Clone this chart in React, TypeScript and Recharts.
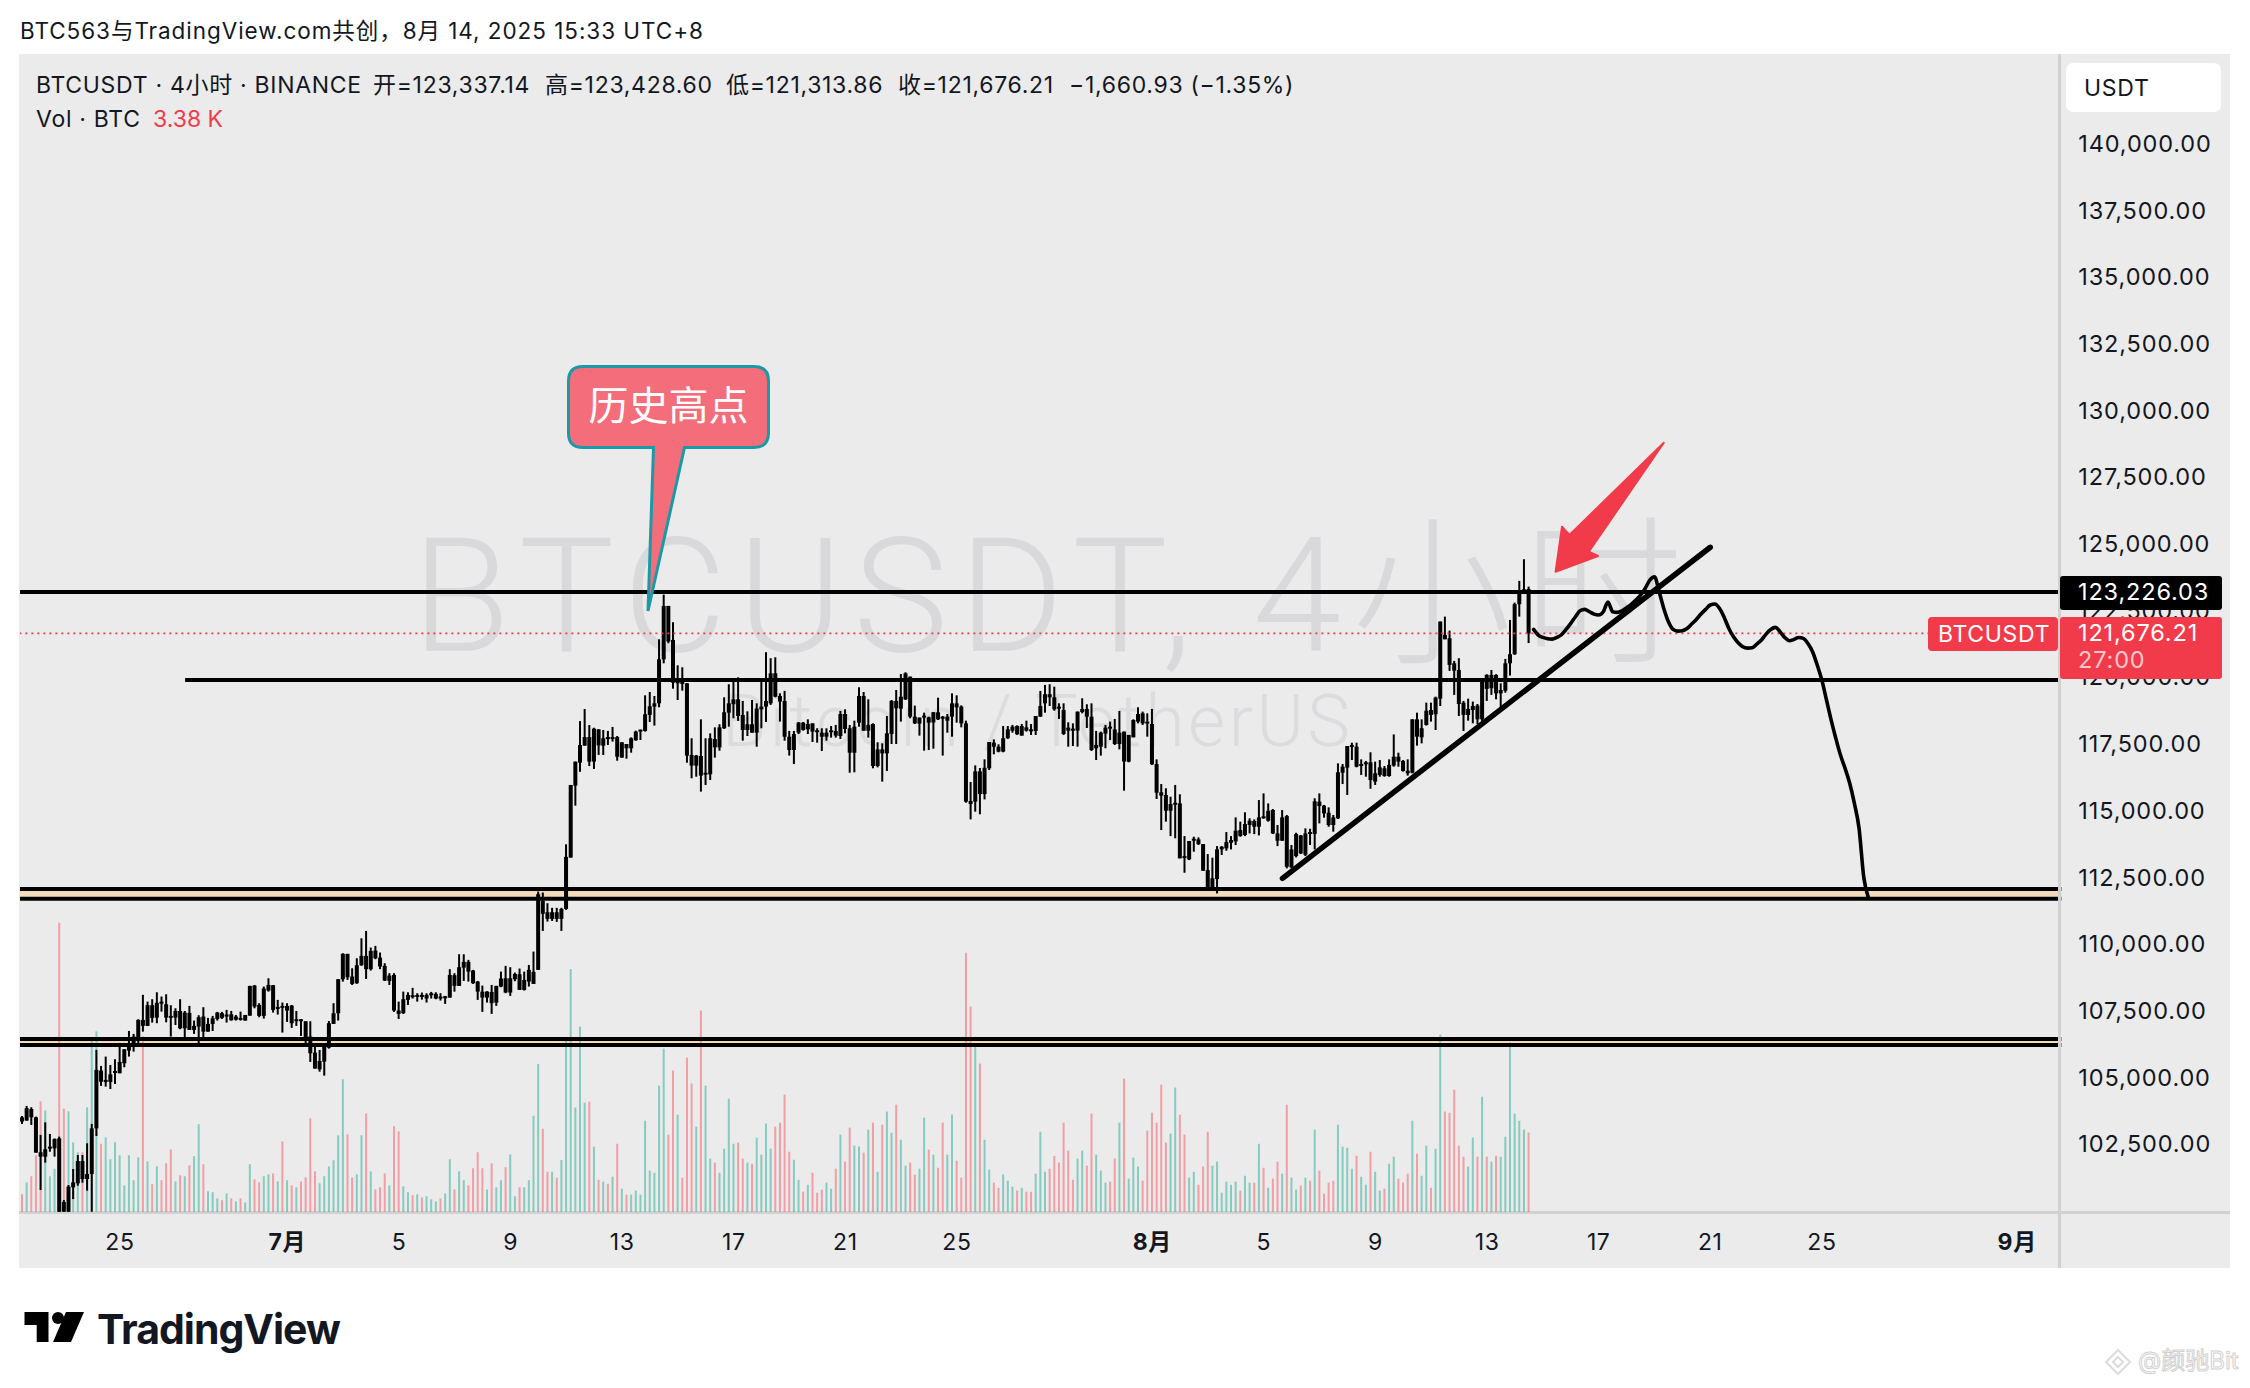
import { Bar, Cell, ComposedChart, Line, ReferenceArea, ReferenceLine, XAxis, YAxis } from "recharts";

const symbolLabel = "BTCUSDT · 4小时 · BINANCE";
const lastClose = 121676.21;
const slotCount = 439;

const priceTicks = [102500, 105000, 107500, 110000, 112500, 115000, 117500, 120000, 122500, 125000, 127500, 130000, 132500, 135000, 137500, 140000];
const timeTickSlots = [21, 57, 81, 105, 129, 153, 177, 201, 243, 267, 291, 315, 339, 363, 387, 429];
const timeTickLabels = ["25", "7月", "5", "9", "13", "17", "21", "25", "8月", "5", "9", "13", "17", "21", "25", "9月"];

const highs = [
  103590,103965,103915,103565,102880,103350,102915,102750,102815,100440,
  101000,101600,102125,102125,102565,103290,106065,105465,105815,105500,
  105715,106190,106090,106775,106665,107215,108130,107875,107965,108225,
  108065,108150,107740,107625,107965,107525,107715,107165,107365,107665,
  107265,107340,107490,107490,107565,107525,107375,107500,107375,108465,
  108500,107815,108440,108750,108500,107940,107840,107815,107750,107525,
  107215,107140,107140,106250,106065,106315,107150,107815,108715,109690,
  109665,109125,109500,110250,110525,109900,109965,109715,109315,108940,
  108940,107875,108250,108225,108390,108190,108215,108190,108240,108225,
  108190,108090,109090,108940,109650,109650,109440,109065,108650,108475,
  108265,108500,108465,109000,109215,109165,108965,109115,109000,109250,
  109750,112000,111965,111565,111390,111390,111390,113770,115995,116870,
  118390,118840,118240,118140,118080,118055,118020,118170,117830,117595,
  117530,117780,118030,118070,119355,119480,119330,121455,123130,122705,
  122095,120480,120405,119805,117745,117120,118455,117745,117930,118155,
  118270,119280,119770,119995,120030,119145,118755,119180,119055,119870,
  120970,120745,120780,119430,119520,118020,118020,118355,118355,118455,
  118305,118120,118120,118120,118205,118245,118770,118830,118245,118405,
  119655,119480,119205,118305,117595,117555,118580,119180,119555,120155,
  120220,120055,118970,118520,118705,118555,118730,119265,118580,118655,
  119430,119355,118980,118405,116105,116730,116630,116955,117605,117705,
  117520,118205,118205,118245,118230,118280,118405,118280,118580,119520,
  119745,119770,119680,119055,119055,118345,118305,118745,119245,119020,
  119055,118020,117995,118245,118370,118470,118770,117995,117870,118455,
  118905,118745,118680,118845,116955,116030,115870,115555,115995,115645,
  114080,113895,114055,114030,113780,113405,113270,113705,113705,114230,
  114080,114780,114620,114970,114745,114705,115430,115680,115305,115095,
  114495,115055,114870,113745,114205,114120,114370,114355,115495,115680,
  115245,115155,114870,116805,116780,117455,117580,117580,116955,116895,
  117220,116870,116930,116705,116955,117890,117205,116930,116955,118455,
  118705,118455,119080,119080,119305,122120,122305,121780,120645,120745,
  119145,119230,119120,119030,119955,120145,120305,120145,119805,120720,
  122180,122830,123645,124455,123428.6,
];

const bodyTops = [
  103540,103880,103850,103540,102230,102340,102440,102725,102750,100365,
  100940,101100,101900,101900,101415,103125,105315,105290,104940,105150,
  105275,105615,106090,106315,106565,107190,107190,107740,107740,107830,
  107875,107775,107340,107525,107525,107465,107450,106965,107290,107315,
  107040,107250,107465,107440,107390,107400,107315,107265,107375,108465,
  108475,107750,108365,108500,108490,107675,107715,107715,107725,107215,
  107215,107140,106565,105965,105650,106315,107065,107440,108715,109665,
  109665,108815,109240,109590,109590,109775,109790,109525,109215,108850,
  108875,107540,107965,108125,108115,108125,108125,108125,108190,108165,
  108065,108075,108875,108865,109165,109365,109365,109040,108625,108250,
  108250,108240,108465,108740,108750,108750,108915,108900,108690,109065,
  108990,111900,111650,111225,111225,111225,111350,113300,115995,116870,
  117490,117790,117790,118105,118080,117745,117790,117790,117790,117595,
  117530,117745,117995,118070,118645,118945,119055,120705,122705,122705,
  121430,119930,119855,119805,117120,117095,117080,116455,117745,117715,
  118155,118720,119055,119205,119205,118620,118270,118270,118855,118930,
  119145,120180,120180,119330,119145,117805,117905,118330,118330,118280,
  118305,118045,117955,117955,118045,118020,118655,118655,118120,118180,
  119330,119330,118245,118280,117330,117330,117930,119145,119145,119305,
  120180,120055,118555,118520,118595,118530,118720,118720,118555,118555,
  119055,119055,118930,118305,115395,116505,116505,116640,117605,117580,
  117430,117745,118080,118180,118205,118205,118155,118080,118580,118955,
  119395,119395,119280,118930,118805,118145,118105,118745,118845,118845,
  118555,117495,117955,118145,118180,118080,117955,117995,117870,118430,
  118655,118680,118370,118280,116780,115720,115620,115280,115330,115305,
  113330,113895,113980,113955,113780,112805,112495,113580,113680,113855,
  113930,114280,114305,114530,114655,114645,114780,114820,115030,115055,
  114180,114780,114830,113580,114155,114105,114180,114230,115380,115370,
  115220,114955,114780,116470,116680,117455,117495,117430,116780,116845,
  116845,116430,116655,116620,116745,117055,117055,116895,116530,118455,
  118455,118120,118780,118805,119270,122120,121620,121495,120555,120305,
  119080,118845,118955,118970,119930,120120,120120,120120,119555,120555,
  120895,122770,123280,123330,123337.14,
];

const bodyBottoms = [
  103380,103415,103540,102215,102065,102065,102365,102375,100000,100000,
  100000,100915,101065,101225,101225,101415,103125,104875,104865,104865,
  105215,105190,105565,106040,106315,106540,106965,106965,107265,107275,
  107815,107275,107290,107275,106875,106875,106815,106815,106940,106750,
  106750,107040,107225,107265,107325,107175,107200,107190,107165,107350,
  107690,107340,107340,108290,107565,107615,107690,107540,107065,107165,
  107175,106500,105940,105365,105340,105625,106150,107040,107440,108715,
  108790,108540,108565,109240,109090,109090,109500,109190,108665,108650,
  107540,107415,107440,107940,108040,108065,108065,107990,108115,107990,
  108040,108040,108025,108465,108465,109150,109000,108565,108250,108025,
  108025,107815,107840,108440,108215,108215,108715,108315,108315,108625,
  108540,109065,111165,110975,110975,110975,110975,111350,113275,115970,
  116830,117470,116870,116870,117480,117470,117730,117745,117055,117020,
  117370,117370,117670,118020,118020,118620,118930,119055,120705,121370,
  119830,119805,119780,117095,116720,116720,116345,116395,116395,117405,
  117405,118120,118705,119020,118580,118055,118055,117955,117955,118830,
  118930,119055,119305,119120,117805,117305,117305,117955,118055,118080,
  117995,117980,117805,117805,117995,117845,117830,118095,117205,117205,
  118330,118030,118030,116705,116705,117180,117180,117905,118870,118855,
  119205,118555,118305,118295,118530,118330,118340,118455,118505,118405,
  118555,118905,118305,115370,115280,115370,115655,115655,116620,117430,
  117245,117245,117745,118030,117895,117845,118030,118030,118020,118555,
  119055,119280,118830,118895,117905,118030,118030,118030,118730,118555,
  117305,117370,117430,117920,118120,117530,117530,116870,116870,117780,
  118370,118305,118330,116770,115705,115595,115030,115030,115270,113245,
  113270,113205,113905,113780,112780,112120,112120,112470,113580,113620,
  113830,113880,114080,114120,114495,114430,114430,114745,114655,114180,
  113905,113905,112930,112905,113330,113430,113380,114180,114155,115205,
  114930,114495,114495,114745,116455,116645,117430,116680,116705,116780,
  116180,116120,116370,116330,116330,116720,116870,116520,116430,116455,
  117805,117780,118245,118620,118645,119230,121455,120495,120280,119030,
  118620,118620,118805,118455,118455,119595,119620,119430,119430,119530,
  120555,120895,122770,123280,121676.21,
];

const lows = [
  103290,103415,103250,102215,100815,101840,102250,102065,100000,100000,
  100000,100475,100975,101090,100790,100000,102840,104715,104690,104600,
  104790,105190,105415,105815,106000,106290,106750,106965,107090,107065,
  107500,107100,106565,107000,106840,106525,106815,106665,106315,106540,
  106750,106775,107165,107225,107090,107165,107165,107165,107165,107350,
  107625,107290,107240,108250,107465,107390,106715,107115,106890,106965,
  106590,106315,105615,105365,105250,105100,106115,107040,107165,108625,
  108690,108500,108540,109215,108725,109040,109465,109090,108650,108500,
  107490,107225,107415,107750,107990,107875,107950,107840,107990,107965,
  107915,107790,108025,108250,108465,108650,108625,108540,107940,107490,
  107840,107415,107715,108415,108190,108090,108640,108315,108290,108440,
  108540,109065,110525,110875,110900,110865,110525,111315,113275,115220,
  116490,117470,116705,116595,117120,117120,117495,117620,116905,117020,
  116980,117205,117655,117680,117995,118355,118220,118905,120555,121305,
  119605,119180,119530,116830,116245,116305,115745,115995,116180,117020,
  117280,118095,118180,118495,118395,117655,117830,117955,117430,118120,
  118355,118995,119280,118370,117655,117095,116780,117905,118030,117905,
  117605,117580,117270,117655,117770,117770,117720,117930,116455,116470,
  118180,118030,117770,116620,116655,116120,116520,117530,117530,118370,
  119180,118495,118280,117845,117280,117305,117355,118430,117095,117955,
  117805,118330,118155,115330,114705,114995,114895,115455,116555,117145,
  117220,117220,117720,117955,117870,117845,117995,117870,117870,118555,
  118705,118955,118780,118470,117870,117430,117455,117430,118680,118130,
  117270,116930,117095,117370,117680,117495,117330,115780,116845,117780,
  118305,118245,117805,116745,115470,114305,114620,114080,113995,113245,
  112705,113180,113495,113745,112780,112020,112030,111930,113370,113530,
  113580,113745,114055,114080,114180,114155,114105,114730,114620,114155,
  113705,113905,112870,112870,113280,113405,113330,113745,113580,114555,
  114770,114430,114245,114720,116030,115620,116930,116655,116370,116305,
  115855,115995,116305,116305,116305,116680,116680,116495,116345,116430,
  117470,117555,118220,118370,118055,118955,121455,120270,119370,118580,
  118020,118405,118305,118280,118395,119145,119370,119205,118895,119455,
  120095,120870,122305,123180,121313.86,
];

const volumes = [
  750,1260,1520,2410,4700,4320,1520,1840,12290,4390,
  4280,2960,2540,2540,4450,7440,7680,2900,3170,2240,
  2960,2410,1130,2410,1350,2320,7470,2150,1180,1940,
  1350,2070,2660,1300,1560,1520,1980,2370,3730,2030,
  880,840,580,500,790,580,450,580,410,2030,
  1390,1260,1520,1600,1640,1300,3000,1350,1130,1050,
  1300,1470,3980,1730,1220,1520,1940,2200,3260,5640,
  3300,1470,1600,3260,4190,1730,960,1050,1640,1130,
  3640,3430,1090,840,710,750,620,670,540,450,
  580,790,2240,960,1730,1350,1130,1860,2540,1860,
  960,2070,1050,1350,1900,2450,670,1050,1050,1350,
  4090,6290,3540,1710,1710,1460,2210,7410,10330,4440,
  7880,4650,4690,2780,1370,1290,1200,1500,2900,990,
  740,740,910,740,3880,1760,1670,5370,6940,3290,
  6010,4140,1460,6560,5460,3630,8560,5370,2270,2100,
  1670,2690,4820,2900,2950,2270,2100,2050,3160,2440,
  3760,2690,3630,3800,4990,2560,2220,1370,860,1160,
  1670,820,950,1250,990,1840,3290,2140,3590,2820,
  2780,2520,3500,3800,1710,3710,4270,3370,4560,3070,
  1970,2100,1590,1840,4010,2650,2440,1880,3800,2440,
  4140,2180,1460,11020,8730,7160,6310,3070,1800,1250,
  1030,1590,1330,1080,910,1030,860,860,1630,3410,
  1710,1840,2390,2100,3800,2610,1370,2270,2610,1970,
  4180,2440,1760,1250,1290,2270,3800,5670,1420,2310,
  1930,1330,3460,4220,3800,5410,2950,3330,5290,4140,
  3290,1460,1710,1160,1930,3410,1970,2140,820,1290,
  1160,1290,910,1540,1250,1250,2900,1880,1030,1420,
  2140,1630,4560,1460,950,1120,1460,1330,3500,1760,
  780,1250,1330,3710,2780,2730,1840,2390,1500,1160,
  2560,1710,910,990,2050,2350,1420,1250,1630,3880,
  2480,1540,2820,1030,2690,7540,4270,4220,5200,2820,
  2350,1930,3160,2350,4900,2350,2140,2390,2350,3200,
  7200,4180,3880,3500,3380,
];

const volumeSides =
  "rgrrrgggrr" + "gggrgggrgg" + "ggggggrgrg" + "rrrgrgrggr" + "gggrgrgrgg" +
  "rrggrgrgrg" + "rrrrgggggg" + "rrggrgrrrg" + "rrggrgrggg" + "rggrggrrrr" +
  "grggrggrgg" + "ggrrgrgggg" + "ggrgrgrgrg" + "rggggggggr" + "rgrrrgrggr" +
  "ggggrrgrgg" + "ggrrrrggrg" + "rrrggrgrrg" + "grgrgrggrg" + "grrggrgrrg" +
  "grrrrgrggr" + "rgggrgrrgg" + "grrrrrrggr" + "rgggrrgrgg" + "grrrrrrggr" +
  "rggrrrgggg" + "ggrggrgrgr" + "rgrggrgrgr" + "rrrggggrgg" + "rggrggrrrg" +
  "rggrggrrrr" + "rggrgrgrgg" + "ggggr";

// hand drawn projection after the last bar
const forecastStart = 325;
const forecast = [
  121825,121615,121525,121475,121460,121525,121625,121825,122050,122300,
  122525,122575,122490,122400,122365,122490,122850,122490,122465,122525,
  122640,122760,122925,123110,123360,123675,123800,123240,122610,122110,
  121825,121760,121775,121860,122025,122200,122400,122575,122740,122775,
  122610,122275,121860,121550,121325,121175,121125,121140,121275,121425,
  121650,121825,121900,121740,121525,121400,121450,121525,121490,121300,
  120990,120490,119925,119175,118425,117740,117115,116615,116050,115300,
  114365,112550,111775,
];

const trendSlots = [271, 363];
const trendPrices = [112497, 124903];

const resistance = 123226.03;
const midLevel = 119930;
const midLevelStartSlot = 35;
const upperBand = [111732, 112095];
const lowerBand = [106248, 106473];

const rows = Array.from({ length: slotCount }, (_, slot) => {
  const i = trendSlots.indexOf(slot);
  const f = slot - forecastStart;
  return {
    slot,
    range: slot < highs.length ? [lows[slot], highs[slot]] : null,
    high: highs[slot],
    low: lows[slot],
    top: bodyTops[slot],
    bottom: bodyBottoms[slot],
    volume: slot < volumes.length ? volumes[slot] : null,
    forecast: f >= 0 && f < forecast.length ? forecast[f] : null,
    trend: i >= 0 ? trendPrices[i] : null,
  };
});

const UI = "Inter, 'Noto Sans CJK SC', sans-serif";
const RED = "#f23b4a";
const INK = "#131722";

function Candle(props: any) {
  const { x, y, width, height, payload } = props;
  if (!payload || payload.range == null) return null;
  const cx = x + width / 2;
  const perPrice = height / (payload.high - payload.low);
  const bodyY = y + (payload.high - payload.top) * perPrice;
  const bodyH = Math.max((payload.top - payload.bottom) * perPrice, 2);
  return (
    <g fill="#000">
      <rect x={cx - 1} y={y} width={2} height={height} />
      <rect x={cx - 2} y={bodyY} width={4} height={bodyH} />
    </g>
  );
}

function TimeTick(props: any) {
  const { x, y, payload } = props;
  const label = timeTickLabels[timeTickSlots.indexOf(payload.value)];
  const isMonth = label.includes("月");
  return (
    <text x={x} y={y + 30} textAnchor="middle" fill={INK} fontFamily={UI} fontSize={23} letterSpacing={0.6} fontWeight={isMonth ? 700 : 400}>
      {label}
    </text>
  );
}

function Txt({ x, y, size = 23, color = INK, children, style }: any) {
  return (
    <div style={{ position: "absolute", left: x, top: y, fontSize: size, lineHeight: `${size + 6}px`, color, fontFamily: UI, whiteSpace: "nowrap", letterSpacing: 0.7, transform: "translateY(-50%)", ...style }}>
      {children}
    </div>
  );
}

function Box({ x, y, w, h, bg, radius = 0 }: any) {
  return <div style={{ position: "absolute", left: x, top: y, width: w, height: h, background: bg, borderRadius: radius }} />;
}

export default function App() {
  return (
    <div style={{ position: "absolute", left: 0, top: 0, width: 2250, height: 1388, background: "#fff", overflow: "hidden" }}>
      <Box x={19} y={54} w={2211} h={1214} bg="#ebebeb" />
      <Box x={19} y={1211} w={2211} h={2.5} bg="#d1d1d1" />

      <Txt x={412} y={597} size={160} color="#d9d9dc" style={{ fontFamily: "Roboto, 'Noto Sans CJK SC', sans-serif", fontWeight: 300, lineHeight: "190px", letterSpacing: 10.7 }}>
        BTCUSDT, 4小时
      </Txt>
      <Txt x={722} y={722} size={72} color="#dcdcdf" style={{ fontFamily: "Roboto, sans-serif", fontWeight: 300, lineHeight: "90px", letterSpacing: 3.4 }}>
        Bitcoin / TetherUS
      </Txt>

      <div style={{ position: "absolute", left: 0, top: 0 }}>
        <ComposedChart width={2250} height={1388} data={rows} margin={{ top: 54.5, right: 0, bottom: 120, left: 20 }}>
          <XAxis
            xAxisId="time"
            dataKey="slot"
            type="category"
            height={56}
            ticks={timeTickSlots}
            interval={0}
            tick={<TimeTick />}
            tickLine={false}
            axisLine={false}
          />
          <XAxis xAxisId="vol" dataKey="slot" hide />
          <YAxis
            yAxisId="price"
            orientation="right"
            width={188.65}
            domain={[99990, 143373]}
            allowDataOverflow
            ticks={priceTicks}
            interval={0}
            tickFormatter={(v: number) => v.toLocaleString("en-US", { minimumFractionDigits: 2 })}
            tick={{ fill: INK, fontSize: 23.5, fontFamily: UI, letterSpacing: 0.85, dy: -1 }}
            tickLine={false}
            axisLine={false}
            tickMargin={11}
          />
          <YAxis yAxisId="vol" hide domain={[0, 49200]} />

          <ReferenceArea xAxisId="time" yAxisId="price" y1={upperBand[0]} y2={upperBand[1]} fill="#f2dcbb" fillOpacity={1} stroke="none" />
          <ReferenceArea xAxisId="time" yAxisId="price" y1={lowerBand[0]} y2={lowerBand[1]} fill="#f2dcbb" fillOpacity={1} stroke="none" />
          <ReferenceLine xAxisId="time" yAxisId="price" y={resistance} stroke="#000" strokeWidth={4} />
          <ReferenceLine
            xAxisId="time"
            yAxisId="price"
            segment={[{ x: midLevelStartSlot, y: midLevel }, { x: slotCount - 1, y: midLevel }]}
            stroke="#000"
            strokeWidth={4}
          />
          {[...upperBand, ...lowerBand].map((level) => (
            <ReferenceLine key={level} xAxisId="time" yAxisId="price" y={level} stroke="#000" strokeWidth={4} />
          ))}
          <ReferenceLine xAxisId="time" yAxisId="price" y={lastClose} stroke={RED} strokeWidth={1.8} strokeDasharray="2 4" />

          <Bar xAxisId="vol" yAxisId="vol" dataKey="volume" barSize={2} isAnimationActive={false}>
            {rows.map((row) => (
              <Cell key={row.slot} fill={volumeSides[row.slot] === "g" ? "#22ab94" : "#f7525f"} fillOpacity={0.5} />
            ))}
          </Bar>
          <Bar xAxisId="time" yAxisId="price" dataKey="range" barSize={4} shape={<Candle />} isAnimationActive={false} />
          <Line
            xAxisId="time"
            yAxisId="price"
            dataKey="trend"
            type="linear"
            connectNulls
            dot={false}
            stroke="#000"
            strokeWidth={5.5}
            strokeLinecap="round"
            isAnimationActive={false}
          />
          <Line
            xAxisId="time"
            yAxisId="price"
            dataKey="forecast"
            type="monotone"
            dot={false}
            stroke="#000"
            strokeWidth={3.6}
            strokeLinecap="round"
            isAnimationActive={false}
          />
        </ComposedChart>
      </div>

      <Box x={2058} y={54} w={2.5} h={1214} bg="#d1d1d1" />

      <svg width={2250} height={1388} style={{ position: "absolute", left: 0, top: 0, pointerEvents: "none" }}>
        <path
          d="M583 366.5 H754 Q768.5 366.5 768.5 381 V433 Q768.5 447.5 754 447.5 H684.5 L648 611 L653.5 447.5 H583 Q568.5 447.5 568.5 433 V381 Q568.5 366.5 583 366.5 Z"
          fill="#f36e7a"
          stroke="#1a9aa6"
          strokeWidth={3}
        />
        <text x={668.5} y={420} textAnchor="middle" fill="#fff" fontSize={40} fontFamily="'Noto Sans CJK SC', sans-serif">
          历史高点
        </text>
        <polygon
          points="1663.8,442.7 1588.8,551.7 1598,556 1555.6,571.7 1562,526.7 1569.4,535"
          fill={RED}
          stroke={RED}
          strokeWidth={2}
          strokeLinejoin="round"
        />
        <g fill="#000">
          <polygon points="24.5,1312 48.5,1312 48.5,1342 36.7,1342 36.7,1325 24.5,1325" />
          <circle cx={58} cy={1318} r={6} />
          <polygon points="66,1312 84,1312 71,1342 53,1342" />
        </g>
        <g fill="none" stroke="#dcdcdc" strokeWidth={2}>
          <polygon points="2118,1350 2130,1362 2118,1374 2106,1362" />
          <polygon points="2118,1357 2123,1362 2118,1367 2113,1362" />
        </g>
      </svg>

      <Txt x={20} y={31} size={22.5} style={{ letterSpacing: 0.95 }}>BTC563与TradingView.com共创，8月 14, 2025 15:33 UTC+8</Txt>

      <Txt x={36} y={85} size={23}>{symbolLabel}</Txt>
      <Txt x={373} y={85} size={23}>开=123,337.14</Txt>
      <Txt x={545} y={85} size={23}>高=123,428.60</Txt>
      <Txt x={726} y={85} size={23}>低=121,313.86</Txt>
      <Txt x={898} y={85} size={23}>收=121,676.21</Txt>
      <Txt x={1069} y={85} size={23}>−1,660.93 (−1.35%)</Txt>
      <Txt x={36} y={119} size={23}>Vol · BTC</Txt>
      <Txt x={153} y={119} size={23} color={RED} style={{ letterSpacing: 0 }}>3.38 K</Txt>

      <Box x={2066} y={63} w={155} h={49} bg="#fff" radius={7} />
      <Txt x={2084} y={88} size={23}>USDT</Txt>

      <Box x={2060} y={576} w={162} h={34} bg="#000" radius={3} />
      <Txt x={2078} y={592} size={23.5} color="#fff" style={{ letterSpacing: 0.85 }}>123,226.03</Txt>
      <Box x={2060} y={617} w={162} h={62} bg={RED} radius={3} />
      <Txt x={2078} y={633} size={23.5} color="#fff" style={{ letterSpacing: 0.85 }}>121,676.21</Txt>
      <Txt x={2078} y={660} size={23.5} color="#ffffffb8" style={{ letterSpacing: 0.85 }}>27:00</Txt>
      <Box x={1928} y={617} w={130} h={34} bg={RED} radius={4} />
      <Txt x={1938} y={634} size={23} color="#fff">BTCUSDT</Txt>

      <Txt x={97} y={1329} size={41} color="#131722" style={{ fontWeight: 700, letterSpacing: -1 }}>TradingView</Txt>
      <Txt x={2138} y={1361} size={24} color="#fff" style={{ WebkitTextStroke: "1px #d2d2d2", letterSpacing: 0 }}>@颜驰Bit</Txt>
    </div>
  );
}
